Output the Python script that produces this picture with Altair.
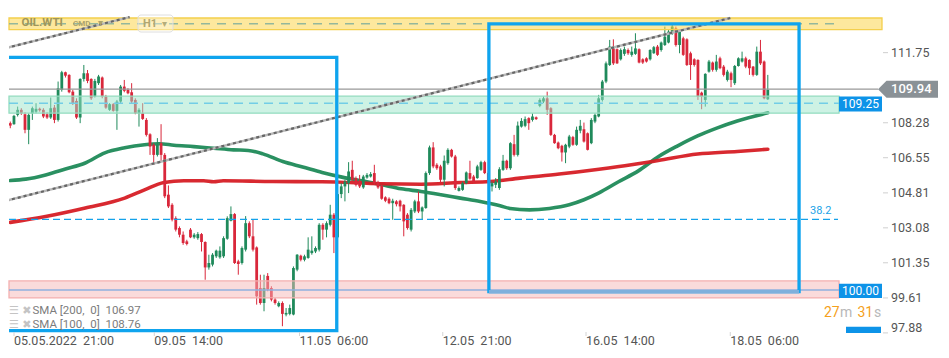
import altair as alt
import pandas as pd

# ---------------- candle data (H1, OIL.WTI) ----------------
opens = [108.26,108.21,108.67,108.92,108.70,107.93,108.75,108.83,108.97,108.92,
         108.70,108.54,109.03,108.42,109.91,110.78,110.65,109.82,109.36,108.54,
         110.45,110.73,110.45,109.58,110.24,110.52,109.58,108.92,109.20,108.87,
         109.33,110.07,109.91,109.79,109.41,108.75,108.75,108.42,107.71,107.19,
         106.69,107.27,106.69,104.72,104.22,103.56,103.07,102.74,102.41,102.99,
         102.61,102.57,102.77,102.38,101.12,101.26,101.67,101.62,101.67,102.54,
         103.43,103.76,101.42,101.34,102.00,103.31,102.66,102.11,100.10,99.36,
         100.70,100.10,99.53,99.20,99.36,98.79,98.82,98.79,101.01,101.70,
         101.50,101.59,101.83,101.91,102.00,103.23,102.99,103.23,103.73,102.61,
         104.75,105.13,105.29,105.95,105.54,105.41,105.08,105.57,105.62,105.79,
         105.34,105.16,104.59,104.52,104.30,104.39,104.42,104.22,103.73,102.99,
         103.89,104.39,103.89,104.06,105.79,107.06,106.20,106.12,105.46,106.28,
         106.94,106.61,104.91,104.96,105.29,105.79,105.62,105.54,105.95,106.33,
         105.79,105.13,105.21,105.05,105.95,106.40,106.03,107.22,106.69,108.09,
         108.13,108.51,108.42,108.55,109.12,109.33,109.49,109.00,107.68,107.30,
         107.14,106.81,107.10,107.57,107.19,107.89,107.96,107.76,107.27,108.34,
         108.59,109.41,110.32,111.14,111.96,111.92,111.42,111.69,111.88,111.64,
         111.69,111.92,111.42,111.47,111.42,111.72,112.05,111.88,112.13,112.25,
         112.71,112.95,112.13,112.46,112.41,111.72,111.42,111.39,109.77,109.41,
         110.81,111.26,110.90,111.47,111.06,110.40,110.73,110.24,111.09,111.31,
         111.47,111.39,111.06,110.65,111.80,111.31,109.44]
highs = [108.34,108.67,109.08,109.00,108.80,108.75,109.08,109.25,109.03,109.00,
         108.80,109.53,109.16,110.32,110.85,110.81,110.68,109.91,109.49,110.48,
         111.14,110.89,110.48,110.45,110.65,110.57,109.66,109.25,109.25,109.41,
         110.15,110.40,109.99,110.24,109.49,109.00,109.25,108.51,107.76,107.27,
         107.52,108.21,106.78,105.18,104.30,103.65,103.15,102.90,102.49,103.07,
         102.82,102.87,102.82,102.41,101.75,101.83,102.00,102.16,102.66,103.65,
         104.14,103.81,101.50,102.16,103.66,103.40,103.48,102.16,100.76,100.76,
         100.84,100.19,99.61,99.44,99.44,99.11,99.28,101.17,101.78,101.75,
         101.75,102.61,102.66,102.16,103.31,103.31,103.40,104.22,103.81,105.21,
         105.29,105.46,106.33,106.40,105.62,105.70,105.70,105.79,105.84,106.20,
         105.41,105.21,104.64,104.59,104.52,104.45,104.47,104.25,103.81,104.06,
         104.47,104.88,104.14,105.87,107.15,107.32,106.28,106.20,106.66,107.02,
         106.99,106.69,105.13,105.37,105.87,106.40,105.70,106.20,106.40,106.40,
         105.87,105.37,105.54,106.08,106.69,106.45,107.32,107.68,108.34,108.51,
         108.59,108.55,108.75,108.59,109.49,109.58,109.82,109.05,107.73,107.35,
         107.19,107.24,107.68,107.63,108.09,108.42,108.29,107.80,108.51,108.75,
         109.66,110.40,111.31,112.38,112.41,111.96,111.96,112.05,111.96,112.05,
         112.71,111.96,111.47,111.52,111.92,112.08,112.13,112.30,113.04,112.87,
         113.12,113.04,112.87,112.54,112.46,111.80,111.47,111.42,109.82,110.73,
         111.39,111.31,111.64,111.55,111.14,110.90,110.81,111.14,111.52,111.80,
         111.55,111.42,111.09,112.05,112.38,111.36,110.65]
lows = [108.01,108.18,108.59,108.67,107.76,107.22,108.42,108.75,108.83,108.51,
        108.47,108.47,108.26,108.34,109.82,110.52,109.74,109.16,108.47,108.26,
        110.32,110.24,109.41,109.53,110.15,109.49,108.97,108.87,108.83,107.93,
        109.25,109.79,109.69,109.25,108.70,108.09,108.42,107.60,106.69,106.20,
        106.61,106.36,104.55,104.06,103.40,102.90,102.61,102.24,102.21,102.57,
        102.54,102.49,101.91,100.51,101.01,101.17,101.59,101.55,101.59,102.49,
        103.40,101.29,100.76,101.26,101.91,102.57,101.91,99.28,99.28,98.95,
        99.94,99.44,99.28,99.15,98.21,98.70,98.75,98.75,100.93,101.42,
        101.42,101.55,101.75,101.83,101.91,102.49,102.61,103.15,101.83,102.57,
        104.55,104.39,104.80,105.37,105.13,105.05,105.01,105.51,105.57,105.21,
        105.01,104.47,104.35,104.25,103.48,104.14,103.89,102.66,102.99,102.90,
        103.81,103.81,103.48,104.02,105.70,106.03,105.95,105.29,105.13,106.20,
        106.56,104.96,104.88,104.91,105.24,105.46,105.29,105.51,105.90,105.74,
        105.29,104.88,105.05,104.96,105.90,105.95,105.95,106.61,106.61,108.04,
        108.06,107.93,108.34,108.42,109.05,109.25,108.67,107.63,107.24,106.97,
        106.36,106.28,107.02,107.14,107.14,107.76,107.30,106.91,107.22,108.26,
        108.55,109.33,110.24,111.09,111.14,111.19,111.36,111.59,111.64,111.55,
        111.64,111.22,111.19,111.26,111.36,111.69,111.59,111.80,112.08,112.21,
        112.63,112.05,111.72,111.59,111.09,110.40,111.06,109.41,108.95,109.08,
        110.76,110.81,110.81,110.93,110.57,110.32,110.04,110.15,111.06,111.26,
        110.98,110.65,110.57,110.60,111.14,109.44,109.41]
closes = [108.14,108.62,108.92,108.75,107.93,108.67,109.00,108.97,108.90,108.59,
          108.54,109.00,108.42,109.99,110.78,110.61,109.79,109.25,108.54,110.45,
          110.73,110.35,109.49,110.35,110.57,109.58,109.03,109.20,108.87,109.33,
          110.07,109.86,109.74,109.33,108.75,108.92,108.47,107.68,107.10,106.69,
          107.19,106.69,104.64,104.14,103.48,102.99,102.74,102.33,102.28,102.61,
          102.74,102.77,102.38,101.12,101.34,101.75,101.95,101.95,102.57,103.56,
          103.76,101.34,101.29,102.08,103.31,102.66,102.00,99.69,99.36,100.10,
          100.02,99.53,99.36,99.36,98.82,98.87,99.11,101.09,101.75,101.50,
          101.67,102.00,101.95,102.08,103.23,102.99,103.31,103.73,102.61,104.75,
          105.13,105.37,105.87,105.46,105.21,105.13,105.62,105.70,105.74,105.29,
          105.08,104.52,104.42,104.30,104.42,104.25,104.14,103.40,103.07,103.97,
          104.39,103.89,104.09,105.79,107.06,106.12,106.03,105.46,106.40,106.94,
          106.61,105.05,105.05,105.29,105.82,105.51,105.37,106.12,106.33,105.79,
          105.37,105.29,105.37,105.98,106.40,106.03,107.27,106.69,108.14,108.37,
          108.46,108.26,108.59,108.46,109.41,109.49,108.92,107.68,107.27,107.02,
          106.81,107.19,107.60,107.19,107.93,108.13,107.35,106.94,108.42,108.67,
          109.49,110.32,111.22,112.05,111.22,111.22,111.88,111.92,111.72,111.80,
          111.96,111.26,111.26,111.31,111.88,112.02,111.64,112.25,112.54,112.79,
          113.04,112.13,112.79,111.64,111.14,111.14,111.14,109.58,109.58,110.70,
          111.31,110.90,111.31,110.98,110.65,110.81,110.40,111.09,111.47,111.47,
          111.06,110.98,110.65,111.80,111.22,109.49,109.91]

# ---------------- moving averages ----------------
sma100_at = [0, 4.2, 9.6, 15.0, 20.4, 25.7, 31.1, 36.5, 40.5, 44.5, 49.9, 55.3, 60.7,
             64.7, 68.7, 74.1, 79.5, 84.8, 90.2, 95.6, 101.0, 106.3, 111.7, 117.1,
             122.4, 127.8, 133.2, 135.9, 141.2, 146.6, 152.0, 156.0, 160.1, 165.4,
             170.8, 176.2, 181.5, 186.9, 192.3, 197.7, 206.0]
sma100 = [105.42, 105.49, 105.70, 105.99, 106.29, 106.79, 107.04, 107.19, 107.24,
          107.17, 107.10, 107.02, 106.94, 106.91, 106.74, 106.36, 106.09, 105.82,
          105.59, 105.41, 105.21, 105.01, 104.88, 104.72, 104.55, 104.38, 104.17,
          104.04, 103.97, 104.04, 104.22, 104.47, 104.81, 105.36, 105.90, 106.60,
          107.14, 107.63, 108.03, 108.37, 108.77]
sma200_at = [0, 9.6, 20.4, 31.1, 36.5, 41.8, 47.2, 52.6, 55.3, 57.9, 71.4, 84.8, 101.0,
             111.7, 122.4, 130.5, 138.6, 149.3, 160.1, 168.9, 176.2, 186.9, 197.7, 206.0]
sma200 = [103.35, 103.64, 104.06, 104.55, 104.96, 105.32, 105.41, 105.41, 105.36,
          105.41, 105.37, 105.36, 105.26, 105.24, 105.32, 105.37, 105.54, 105.74,
          105.98, 106.20, 106.41, 106.73, 106.86, 106.97]

# ---------------- axes ----------------
date_at = [1.01, 39.16, 78.65, 117.61, 156.56, 195.79]
date_labels = ["05.05.2022\u00a0\u00a021:00", "09.05\u00a0\u00a014:00", "11.05\u00a0\u00a006:00",
               "12.05\u00a0\u00a021:00", "16.05\u00a0\u00a014:00", "18.05\u00a0\u00a006:00"]
price_ticks = [111.75, 108.28, 106.55, 104.81, 103.08, 101.35, 99.61]
price_tick_last = 97.88

# ---------------- drawings ----------------
last_price = 109.94
support_zone = [108.754, 109.595]
support_level = 109.25
resist_zone = [112.887, 113.465]
resist_level = 113.18
low_zone = [99.61, 100.45]
low_level = 100.00
fib_382 = 103.495
chan_lo_at, chan_lo = [-1.14, 195.8], [104.42, 113.465]
chan_hi_at, chan_hi = [-1.14, 32.44], [111.98, 113.51]
box_at = [[-5, 88.78], [130.15, 214.5]]
box_price = [[97.99, 111.52], [99.92, 113.17]]

W, H = 830, 325
X_DOM = [1.0075, 224.0]
Y_DOM = [97.875, 113.96]
GREEN, RED = "#1f8a5b", "#d9273b"
BLUE = "#0fa4ee"
TAG = "#0d93e8"

xs = alt.Scale(domain=X_DOM, nice=False, zero=False)
ys = alt.Scale(domain=Y_DOM, nice=False, zero=False)
one = pd.DataFrame({"d": [0]})

cdf = pd.DataFrame({"i": list(range(len(closes))), "o": opens, "h": highs, "l": lows, "c": closes})
col = alt.condition("datum.c >= datum.o", alt.value(GREEN), alt.value(RED))
X = alt.X("i:Q", scale=xs, axis=None)

layers = []

def yd(v):
    return alt.YDatum(v, scale=ys, axis=None)

# SMA lines
s100 = pd.DataFrame({"i": sma100_at, "v": sma100})
s200 = pd.DataFrame({"i": sma200_at, "v": sma200})
layers.append(alt.Chart(s100).mark_line(color="#1f8a58", strokeWidth=3.6, interpolate="monotone",
                                         clip=True, strokeCap="round", opacity=0.95)
              .encode(x=X, y=alt.Y("v:Q", scale=ys, axis=None)))
layers.append(alt.Chart(s200).mark_line(color="#d61e25", strokeWidth=3.6, interpolate="monotone",
                                         clip=True, strokeCap="round", opacity=0.95)
              .encode(x=X, y=alt.Y("v:Q", scale=ys, axis=None)))

# candles
layers.append(alt.Chart(cdf).mark_rule(strokeWidth=1, clip=True)
              .encode(x=X, y=alt.Y("l:Q", scale=ys, axis=None), y2="h:Q", color=col))
layers.append(alt.Chart(cdf).mark_bar(size=2.8, clip=True)
              .encode(x=X, y=alt.Y("o:Q", scale=ys, axis=None), y2="c:Q", color=col))

# zones
def zone(lo, hi, fill, stroke, op, x2):
    return (alt.Chart(one).mark_rect(fill=fill, fillOpacity=op, stroke=stroke, strokeWidth=1.3)
            .encode(x=alt.value(0), x2=alt.value(x2), y=yd(hi), y2=alt.Y2Datum(lo)))

layers.append(zone(support_zone[0], support_zone[1], "#9be6c9", "#93dcbf", 0.5, W))
layers.append(zone(low_zone[0], low_zone[1], "#f5b8b8", "#f3b0b0", 0.5, W))
layers.append(zone(resist_zone[0], resist_zone[1], "#fbd54d", "#f4cf4c", 0.55, 873))

def hline(v, color, width, dash=None, x2=W):
    kw = dict(color=color, strokeWidth=width)
    if dash:
        kw["strokeDash"] = dash
    return alt.Chart(one).mark_rule(**kw).encode(x=alt.value(0), x2=alt.value(x2), y=yd(v))

layers.append(hline(support_level, "#72cde6", 1.5, [9, 6]))
layers.append(hline(resist_level, "#93b79c", 1.3, [9, 7]))
layers.append(hline(low_level, "#8fb0df", 1.6))
layers.append(hline(fib_382, "#14a2ea", 1.3, [7, 4], 829))
layers.append(hline(last_price, "#999999", 1.3, None, 869))

# channel trend lines
tl = pd.DataFrame({"i": chan_lo_at + chan_hi_at, "v": chan_lo + chan_hi, "g": ["a", "a", "b", "b"]})
layers.append(alt.Chart(tl).mark_line(color="#b9b9b9", strokeWidth=2.4, clip=True)
              .encode(x=X, y=alt.Y("v:Q", scale=ys, axis=None), detail="g:N"))
layers.append(alt.Chart(tl).mark_line(color="#666666", strokeWidth=2.2, strokeDash=[3, 3], clip=True)
              .encode(x=X, y=alt.Y("v:Q", scale=ys, axis=None), detail="g:N"))

# blue boxes
bx = pd.DataFrame({"x1": [b[0] for b in box_at], "x2": [b[1] for b in box_at],
                   "y1": [p[0] for p in box_price], "y2": [p[1] for p in box_price]})
layers.append(alt.Chart(bx).mark_rect(fillOpacity=0, stroke=BLUE, strokeWidth=3.3, clip=True)
              .encode(x=alt.X("x1:Q", scale=xs, axis=None), x2="x2:Q",
                      y=alt.Y("y1:Q", scale=ys, axis=None), y2="y2:Q"))
bb = pd.DataFrame({"x1": [box_at[1][0]], "x2": [box_at[1][1]], "y": [box_price[1][0]]})
layers.append(alt.Chart(bb).mark_rule(color="#7fb0dc", strokeWidth=3.6, clip=True)
              .encode(x=alt.X("x1:Q", scale=xs, axis=None), x2="x2:Q",
                      y=alt.Y("y:Q", scale=ys, axis=None)))

# price axis (right side): ticks + labels
pt = pd.DataFrame({"v": price_ticks + [price_tick_last]})
layers.append(alt.Chart(pt).mark_rule(color="#cfcfcf", strokeWidth=1)
              .encode(x=alt.value(874), x2=alt.value(879), y=alt.Y("v:Q", scale=ys, axis=None)))
ptl = pd.DataFrame({"v": price_ticks, "t": [f"{v:.2f}" for v in price_ticks]})
layers.append(alt.Chart(ptl).mark_text(align="left", baseline="middle", fontSize=12.5,
                                       color="#555555", font="Roboto")
              .encode(x=alt.value(882), y=alt.Y("v:Q", scale=ys, axis=None), text="t:N"))
ptl2 = pd.DataFrame({"v": [price_tick_last], "t": [f"{price_tick_last:.2f}"]})
layers.append(alt.Chart(ptl2).mark_text(align="left", baseline="middle", fontSize=12.5,
                                        color="#555555", font="Roboto", dy=-5)
              .encode(x=alt.value(882), y=alt.Y("v:Q", scale=ys, axis=None), text="t:N"))

# price tags
def tag(lo, hi, x1, x2, color):
    return (alt.Chart(one).mark_rect(color=color)
            .encode(x=alt.value(x1), x2=alt.value(x2), y=yd(hi), y2=alt.Y2Datum(lo)))

layers.append(tag(108.833, 109.575, 830, 873, TAG))
layers.append(tag(99.61, 100.316, 830, 873, TAG))
layers.append(tag(Y_DOM[0], 98.19, 837, 872, TAG))
arrow = "M -1 0 L -0.717 -0.283 L 1 -0.283 L 1 0.283 L -0.717 0.283 Z"
layers.append(alt.Chart(one).mark_point(shape=arrow, size=3600, filled=True, color="#8a9196",
                                        opacity=1, strokeWidth=0)
              .encode(x=alt.value(899), y=yd(last_price)))

def dtext(txt, px, v, size, color, align="left", weight="normal"):
    return (alt.Chart(one).mark_text(text=txt, align=align, baseline="middle", fontSize=size,
                                     color=color, font="Roboto", fontWeight=weight)
            .encode(x=alt.value(px), y=yd(v)))

def ptext(txt, px, py, size, color, align="left", weight="normal", font="Roboto"):
    return (alt.Chart(one).mark_text(text=txt, align=align, baseline="middle", fontSize=size,
                                     color=color, font=font, fontWeight=weight)
            .encode(x=alt.value(px), y=alt.value(py)))

layers.append(dtext("109.94", 882, last_price, 13, "white", weight=500))
layers.append(dtext("109.25", 851.5, 109.21, 12, "white", align="center"))
layers.append(dtext("100.00", 851.5, 99.97, 12, "white", align="center"))

# x axis labels and tick marks
xl = pd.DataFrame({"i": date_at, "t": date_labels})
layers.append(alt.Chart(xl).mark_rule(color="#d4d4d4", strokeWidth=1)
              .encode(x=X, y=alt.value(324), y2=alt.value(328)))
layers.append(alt.Chart(xl).mark_text(align="left", baseline="middle", fontSize=12.5,
                                      color="#555555", font="Roboto")
              .encode(x=X, y=alt.value(332.5), text="t:N"))

# annotations
layers.append(ptext("38.2", 801, 203, 11, "#1aa3e8"))
layers.append(ptext("27", 815, 304.5, 14, "#f5a11c"))
layers.append(ptext("m", 831, 304.5, 14, "#b8b8b8"))
layers.append(ptext("31", 848.5, 304.5, 14, "#f5a11c"))
layers.append(ptext("s", 865, 304.5, 14, "#b8b8b8"))
layers.append(ptext("\u2630 \u2716", 0, 303, 11, "#c4c4c4", font="DejaVu Sans"))
layers.append(ptext("\u2630 \u2716", 0, 317, 11, "#c4c4c4", font="DejaVu Sans"))
layers.append(ptext("SMA [200,\u00a0 0]\u00a0 106.97", 23.5, 303, 11.5, "#7c7c7c"))
layers.append(ptext("SMA [100,\u00a0 0]\u00a0 108.76", 23.5, 317, 11.5, "#7c7c7c"))

# header
layers.append(alt.Chart(one).mark_rect(fill="white", fillOpacity=0.35, stroke="#dedede",
                                       strokeWidth=1, cornerRadius=3)
              .encode(x=alt.value(129), x2=alt.value(164), y=alt.value(7), y2=alt.value(24)))
layers.append(ptext("OIL.WTI", 12.5, 15, 11.5, "#a0965a", weight="bold"))
layers.append(ptext("CMD", 64, 15.5, 8, "#aea46c", weight="bold"))
layers.append(ptext("\u25be", 89, 15, 10, "#aea46c", font="DejaVu Sans"))
layers.append(ptext("H1", 134, 15.5, 11, "#b0a670", weight="bold"))
layers.append(ptext("\u25be", 153, 15.5, 10, "#b5ad7a", font="DejaVu Sans"))

chart = (alt.layer(*layers)
         .properties(width=W, height=H, padding=0, background="white")
         .configure_view(strokeWidth=0))

chart.save("out.html", embed_options={"renderer": "svg", "actions": False})
